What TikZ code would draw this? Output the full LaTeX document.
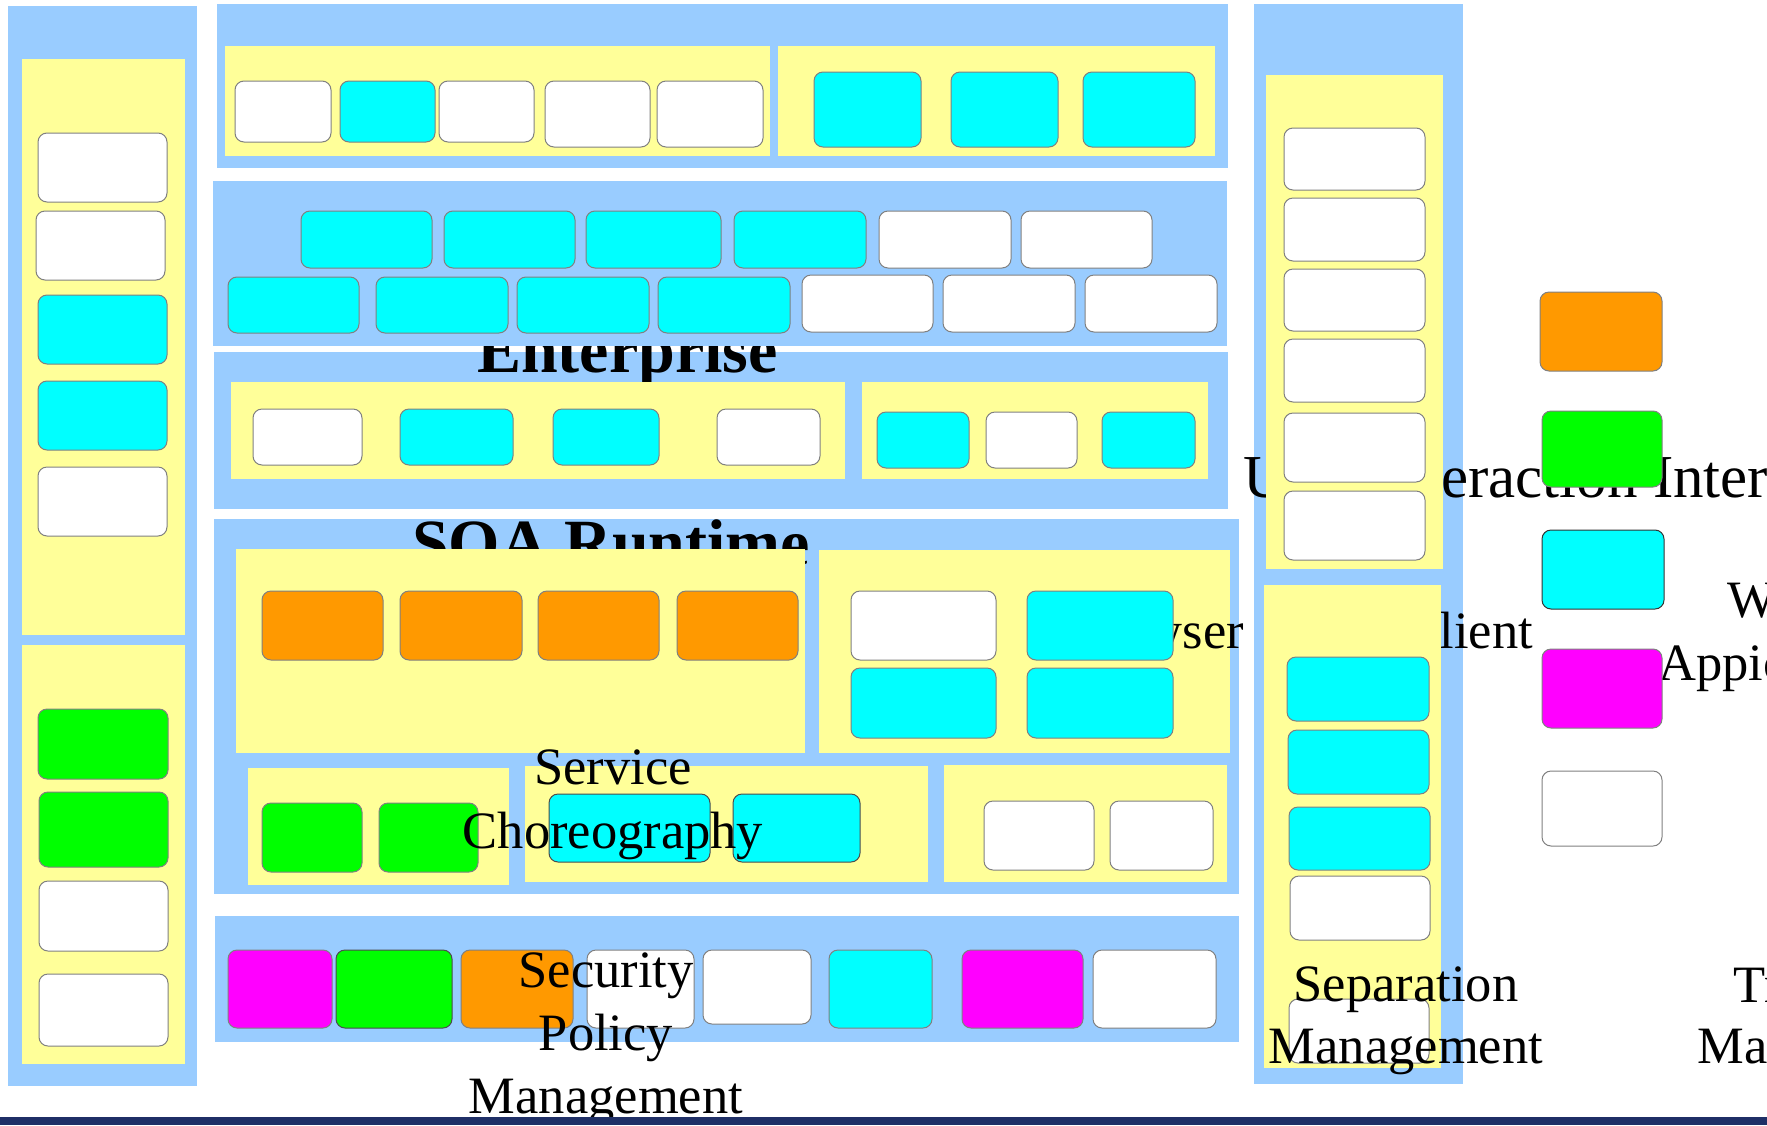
\documentclass[tikz,border=0pt]{standalone}
\usepackage{fontspec}
\setmainfont{Liberation Serif}
\usepackage{tikz}

\definecolor{panelblue}{HTML}{99CCFF}
\definecolor{paleyellow}{HTML}{FFFF99}
\definecolor{svccyan}{HTML}{00FFFF}
\definecolor{rtorange}{HTML}{FF9900}
\definecolor{rtgreen}{HTML}{00FF00}
\definecolor{secmagenta}{HTML}{FF00FF}
\definecolor{barnavy}{HTML}{1F2F66}

\tikzset{
  panel/.style={fill=panelblue},
  tray/.style={fill=paleyellow},
  blk/.style={draw=gray, line width=1pt, rounded corners=9pt},
  wbox/.style={blk, fill=white},
  cbox/.style={blk, fill=svccyan},
  obox/.style={blk, fill=rtorange},
  gbox/.style={blk, fill=rtgreen},
  mbox/.style={blk, fill=secmagenta},
  lbl/.style={inner sep=0pt, font=\fontsize{52.5}{60}\selectfont},
  head/.style={inner sep=0pt, font=\fontsize{66}{72}\selectfont\bfseries},
}

\begin{document}
\begin{tikzpicture}[x=1pt,y=-1pt]
\useasboundingbox (0,0) rectangle (1767,1125);

% left column
\fill[panel] (8,6) rectangle (197,1086);
\fill[tray] (22,59) rectangle (185,635);
\fill[tray] (22,645) rectangle (185,1064);
\draw[wbox] (38,133) rectangle (167,202);
\draw[wbox] (36,211) rectangle (165,280);
\draw[cbox] (38,295) rectangle (167,364);
\draw[cbox] (38,381) rectangle (167,450);
\draw[wbox] (38,467) rectangle (167,536);
\draw[gbox] (38,709) rectangle (168,779);
\draw[gbox] (39,792) rectangle (168,867);
\draw[wbox] (39,881) rectangle (168,951);
\draw[wbox] (39,974) rectangle (168,1046);

% top band
\fill[panel] (217,4) rectangle (1228,168);
\fill[tray] (225,46) rectangle (770,156);
\fill[tray] (778,46) rectangle (1215,156);
\draw[wbox] (235,81) rectangle (331,142);
\draw[cbox] (340,81) rectangle (435,142);
\draw[wbox] (439,81) rectangle (534,142);
\draw[wbox] (545,81) rectangle (650,147);
\draw[wbox] (657,81) rectangle (763,147);
\foreach \a/\b in {814/921,951/1058,1083/1195}
  \draw[cbox] (\a,72) rectangle (\b,147);

% enterprise band (its title goes under the services band)
\fill[panel] (214,352) rectangle (1228,509);
\node[head, anchor=base west] (ent) at (477,372) {Enterprise};

% services band
\fill[panel] (213,181) rectangle (1227,346);
\foreach \a/\b in {301/432,444/575,586/721,734/866}
  \draw[cbox] (\a,211) rectangle (\b,268);
\foreach \a/\b in {879/1011,1021/1152}
  \draw[wbox] (\a,211) rectangle (\b,268);
\foreach \a/\b in {228/359,376/508,517/649,658/790}
  \draw[cbox] (\a,277) rectangle (\b,333);
\foreach \a/\b in {802/933,943/1075,1085/1217}
  \draw[wbox] (\a,275) rectangle (\b,332);

% enterprise trays
\fill[tray] (231,382) rectangle (845,479);
\fill[tray] (862,382) rectangle (1208,479);
\draw[wbox] (253,409) rectangle (362,465);
\draw[cbox] (400,409) rectangle (513,465);
\draw[cbox] (553,409) rectangle (659,465);
\draw[wbox] (717,409) rectangle (820,465);
\draw[cbox] (877,412) rectangle (969,468);
\draw[wbox] (986,412) rectangle (1077,468);
\draw[cbox] (1102,412) rectangle (1195,468);

% SOA runtime
\fill[panel] (214,519) rectangle (1239,894);
\node[head, anchor=base west] (soa) at (412,565) {SOA Runtime};
\fill[tray] (236,549) rectangle (805,753);
\fill[tray] (819,550) rectangle (1230,753);
\foreach \a/\b in {262/383,400/522,538/659,677/798}
  \draw[obox] (\a,591) rectangle (\b,660);
\node[lbl, anchor=base east] (brw) at (1244,648) {Browser};
\draw[wbox] (851,591) rectangle (996,660);
\draw[cbox] (1027,591) rectangle (1173,660);
\draw[cbox] (851,668) rectangle (996,738);
\draw[cbox] (1027,668) rectangle (1173,738);

\fill[tray] (248,768) rectangle (509,885);
\draw[gbox] (262,803) rectangle (362,872);
\draw[gbox] (379,803) rectangle (478,872);
\fill[tray] (525,766) rectangle (928,882);
\draw[cbox, draw=black!70] (549,794) rectangle (710,862);
\draw[cbox, draw=black!70] (733,794) rectangle (860,862);
\node[lbl, anchor=base] (chor1) at (613,784) {Service};
\node[lbl, anchor=base] (chor2) at (613,848) {Choreography};
\fill[tray] (944,765) rectangle (1227,882);
\draw[wbox] (984,801) rectangle (1094,870);
\draw[wbox] (1110,801) rectangle (1213,870);

% security band
\fill[panel] (215,916) rectangle (1239,1042);
\draw[mbox] (228,950) rectangle (332,1028);
\draw[gbox, draw=black!70] (336,950) rectangle (452,1028);
\draw[obox] (461,950) rectangle (573,1028);
\draw[wbox] (587,950) rectangle (694,1028);
\draw[wbox] (703,950) rectangle (811,1024);
\draw[cbox] (829,950) rectangle (932,1028);
\draw[mbox] (962,950) rectangle (1083,1028);
\draw[wbox] (1093,950) rectangle (1216,1028);
\node[lbl, anchor=base] (sec1) at (606,987) {Security};
\node[lbl, anchor=base] (sec2) at (606,1050) {Policy};
\node[lbl, anchor=base] (sec3) at (606,1113) {Management};

% right column
\fill[panel] (1254,4) rectangle (1463,1084);
\node[lbl, font=\fontsize{61}{66}\selectfont, anchor=base west] (uii) at (1243,497) {User Interaction Interface};
\node[lbl, anchor=base east] (cli) at (1533,648) {Client};
\fill[tray] (1266,75) rectangle (1443,569);
\fill[tray] (1264,585) rectangle (1441,1068);
\foreach \a/\b in {128/190,198/261,269/331,339/402,413/482,491/560}
  \draw[wbox] (1284,\a) rectangle (1425,\b);
\draw[cbox] (1287,657) rectangle (1429,721);
\draw[cbox] (1288,730) rectangle (1429,794);
\draw[cbox] (1289,807) rectangle (1430,870);
\draw[wbox] (1290,876) rectangle (1430,940);
\draw[wbox] (1289,999) rectangle (1429,1063);
\node[lbl, anchor=base] (sep1) at (1406,1001) {Separation};
\node[lbl, anchor=base] (sep2) at (1406,1063) {Management};

% key
\node[lbl, anchor=base] (web1) at (1775,617) {Web};
\node[lbl, anchor=base] (web2) at (1775,680) {Appication};
\node[lbl, anchor=base] (trn1) at (1835,1002) {Transport};
\node[lbl, anchor=base] (trn2) at (1835,1063) {Management};
\draw[obox] (1540,292) rectangle (1662,371);
\draw[gbox] (1542,411) rectangle (1662,487);
\draw[cbox, draw=black!80] (1542,530) rectangle (1664,609);
\draw[mbox] (1542,649) rectangle (1662,728);
\draw[wbox] (1542,771) rectangle (1662,846);

% footer bar
\fill[barnavy] (0,1117) rectangle (1767,1125);
\end{tikzpicture}
\end{document}
